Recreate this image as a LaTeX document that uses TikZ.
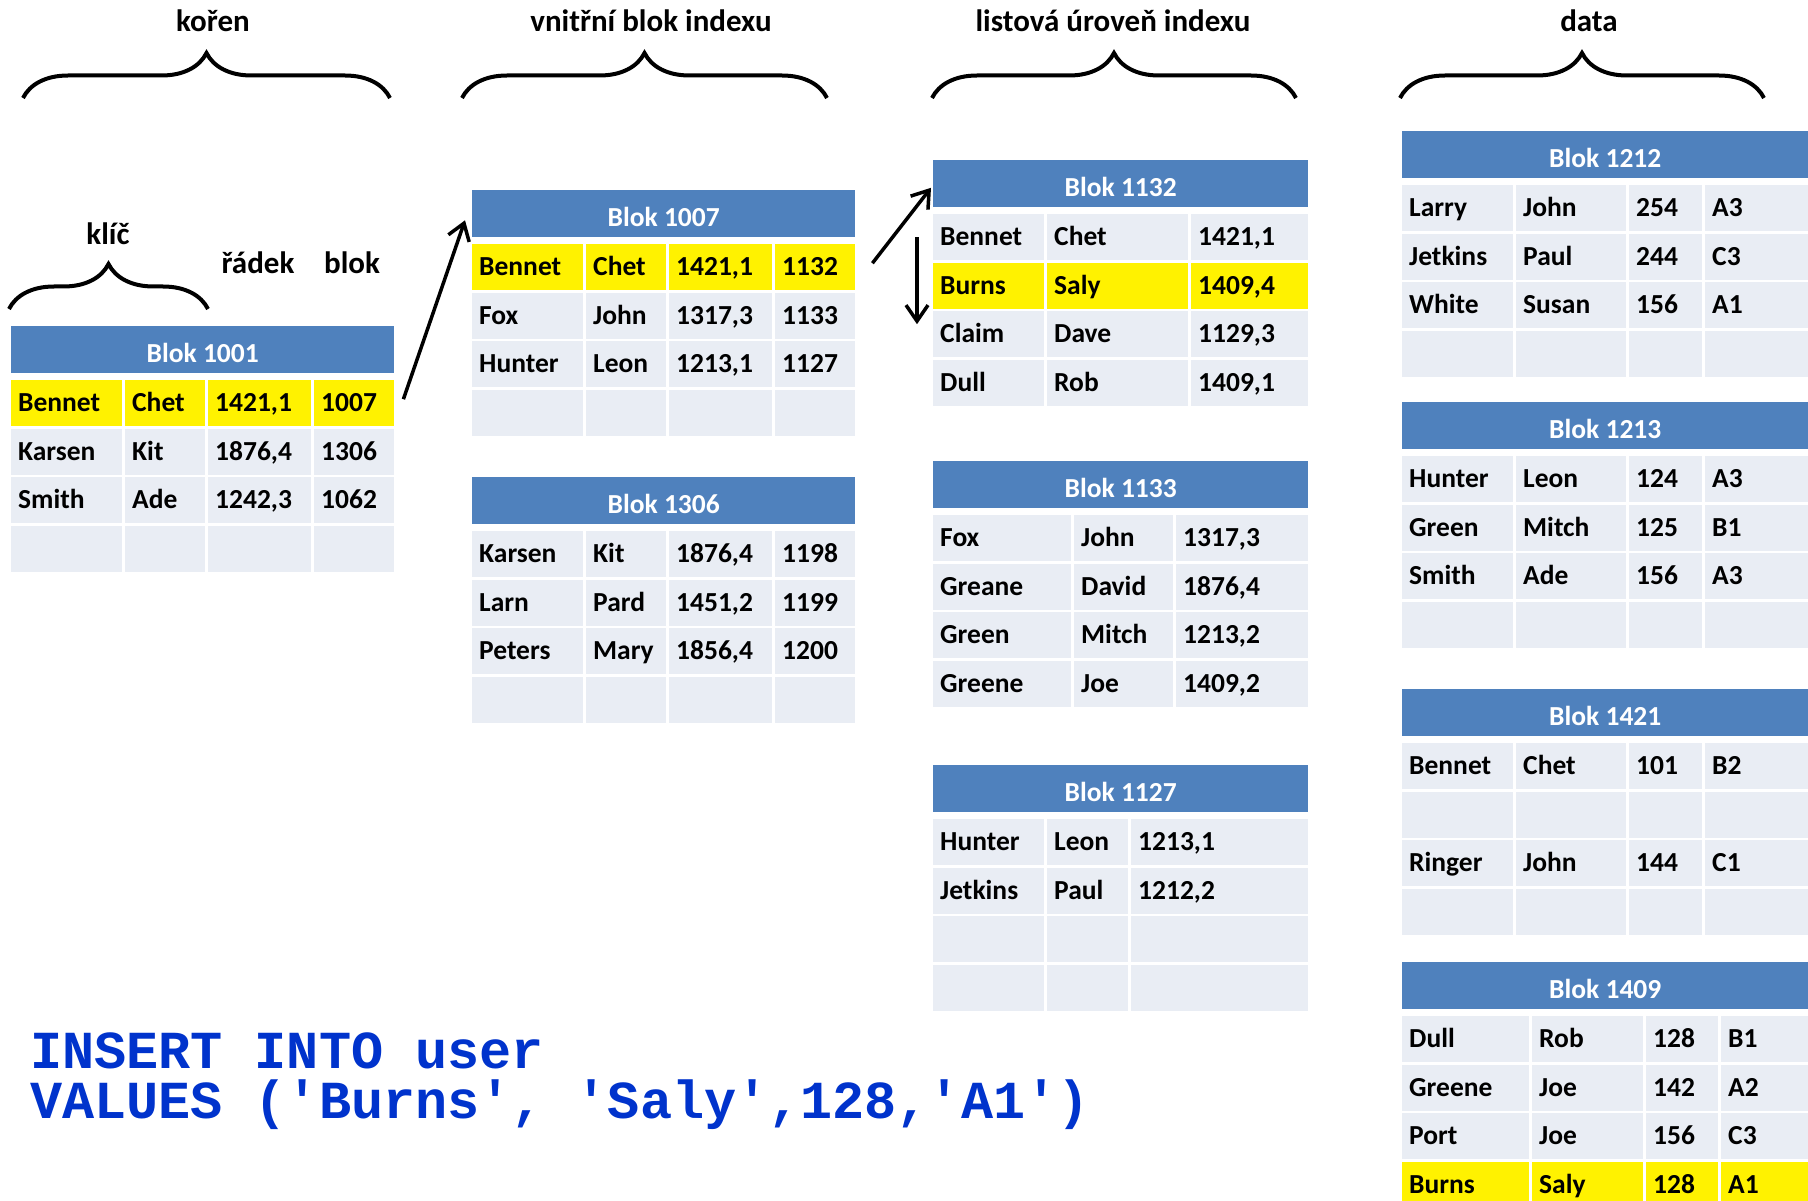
\documentclass[tikz,border=0pt]{standalone}
\usepackage{fontspec}
\setmainfont{Carlito}
\setmonofont{Liberation Mono}
\usetikzlibrary{matrix,positioning,decorations.pathreplacing,arrows.meta}

\definecolor{modra}{RGB}{79,129,189}
\definecolor{svetla}{RGB}{233,237,244}
\definecolor{sqlmodra}{RGB}{0,51,204}

\newcommand{\bunkafont}{\fontsize{27.5}{33}\selectfont\bfseries}
\newcommand{\popisfont}{\fontsize{31}{37}\selectfont\bfseries}
\newcommand{\sqlfont}{\fontsize{53.5}{50}\selectfont\ttfamily\bfseries}

\tikzset{
  bunka/.style={fill=svetla, font=\bunkafont, align=left, inner xsep=7pt, inner ysep=10.5pt, text height=21pt, text depth=4pt},
  blok/.style={matrix of nodes, nodes in empty cells, row sep=2.5pt, column sep=3pt, inner sep=0pt, anchor=north west, nodes={bunka}},
  ctyri/.style n args={4}{column 1/.style={nodes={text width=#1}}, column 2/.style={nodes={text width=#2}}, column 3/.style={nodes={text width=#3}}, column 4/.style={nodes={text width=#4}}},
  tri/.style n args={3}{column 1/.style={nodes={text width=#1}}, column 2/.style={nodes={text width=#2}}, column 3/.style={nodes={text width=#3}}},
  zluta/.style={row #1/.style={nodes={fill=yellow}}},
  hlava/.style={fill=modra, text=white, font=\bunkafont, minimum height=47pt, inner sep=0pt, text height=26pt, text depth=0pt},
  zavorka/.style={decorate, decoration={brace, amplitude=45pt}, line width=4pt},
  popis/.style={font=\popisfont, anchor=base},
  sipka/.style={line width=3.5pt, -{Straight Barb[length=16pt,width=22pt]}},
  sql/.style={font=\sqlfont, text=sqlmodra, align=left, anchor=base west, inner sep=0pt}
}

\begin{document}
\begin{tikzpicture}[x=1pt,y=-1pt]
\clip (0,0) rectangle (1808,1201);
%popisky nahore
\node[popis] (koren) at (213,32) {kořen};
\node[popis] (vnitrni) at (651,32) {vnitřní blok indexu};
\node[popis] (listova) at (1113,32) {listová úroveň indexu};
\node[popis] (data) at (1589,32) {data};
\draw[zavorka] (23,98) -- (390,98);
\draw[zavorka] (462,98) -- (827,98);
\draw[zavorka] (932,98) -- (1296,98);
\draw[zavorka] (1400,98) -- (1764,98);
%koren
\node[popis] (klic) at (108,245) {klíč};
\node[popis] (radek) at (258,274) {řádek};
\node[popis] (lblok) at (352,274) {blok};
\draw[zavorka] (9,309) -- (208,309);
\matrix (b1001) [blok, ctyri={97pt}{66pt}{89pt}{66pt}, zluta=1] at (11,380) {
Bennet & Chet & 1421,1 & 1007 \\
Karsen & Kit & 1876,4 & 1306 \\
Smith & Ade & 1242,3 & 1062 \\
 & & & \\
};
\node[hlava, minimum width=383pt, above=7pt of b1001] (h1001) {Blok 1001};
%vnitrni bloky
\matrix (b1007) [blok, ctyri={97pt}{66pt}{89pt}{66pt}, zluta=1] at (472,244) {
Bennet & Chet & 1421,1 & 1132 \\
Fox & John & 1317,3 & 1133 \\
Hunter & Leon & 1213,1 & 1127 \\
 & & & \\
};
\node[hlava, minimum width=383pt, above=7pt of b1007] (h1007) {Blok 1007};
\matrix (b1306) [blok, ctyri={97pt}{66pt}{89pt}{66pt}] at (472,531) {
Karsen & Kit & 1876,4 & 1198 \\
Larn & Pard & 1451,2 & 1199 \\
Peters & Mary & 1856,4 & 1200 \\
 & & & \\
};
\node[hlava, minimum width=383pt, above=7pt of b1306] (h1306) {Blok 1306};
%listove bloky
\matrix (b1132) [blok, tri={97pt}{127pt}{103pt}, zluta=2] at (933,214) {
Bennet & Chet & 1421,1 \\
Burns & Saly & 1409,4 \\
Claim & Dave & 1129,3 \\
Dull & Rob & 1409,1 \\
};
\node[hlava, minimum width=375pt, above=7pt of b1132] (h1132) {Blok 1132};
\matrix (b1133) [blok, tri={124pt}{85pt}{118pt}] at (933,515) {
Fox & John & 1317,3 \\
Greane & David & 1876,4 \\
Green & Mitch & 1213,2 \\
Greene & Joe & 1409,2 \\
};
\node[hlava, minimum width=375pt, above=7pt of b1133] (h1133) {Blok 1133};
\matrix (b1127) [blok, tri={97pt}{67pt}{163pt}] at (933,819) {
Hunter & Leon & 1213,1 \\
Jetkins & Paul & 1212,2 \\
 & & \\
 & & \\
};
\node[hlava, minimum width=375pt, above=7pt of b1127] (h1127) {Blok 1127};
%data
\matrix (b1212) [blok, ctyri={97pt}{96pt}{59pt}{89pt}] at (1402,185) {
Larry & John & 254 & A3 \\
Jetkins & Paul & 244 & C3 \\
White & Susan & 156 & A1 \\
 & & & \\
};
\node[hlava, minimum width=406pt, above=7pt of b1212] (h1212) {Blok 1212};
\matrix (b1213) [blok, ctyri={97pt}{96pt}{59pt}{89pt}] at (1402,456) {
Hunter & Leon & 124 & A3 \\
Green & Mitch & 125 & B1 \\
Smith & Ade & 156 & A3 \\
 & & & \\
};
\node[hlava, minimum width=406pt, above=7pt of b1213] (h1213) {Blok 1213};
\matrix (b1421) [blok, ctyri={97pt}{96pt}{59pt}{89pt}] at (1402,743) {
Bennet & Chet & 101 & B2 \\
 & & & \\
Ringer & John & 144 & C1 \\
 & & & \\
};
\node[hlava, minimum width=406pt, above=7pt of b1421] (h1421) {Blok 1421};
\matrix (b1409) [blok, ctyri={113pt}{97pt}{58pt}{73pt}, zluta=4] at (1402,1016) {
Dull & Rob & 128 & B1 \\
Greene & Joe & 142 & A2 \\
Port & Joe & 156 & C3 \\
Burns & Saly & 128 & A1 \\
};
\node[hlava, minimum width=406pt, above=7pt of b1409] (h1409) {Blok 1409};
%sipky
\draw[sipka] ([xshift=9pt,yshift=4pt]b1001-1-4.east) -- ([xshift=-7pt,yshift=-7pt]h1007.west);
\draw[sipka] ([xshift=17pt,yshift=4pt]b1007-1-4.east) -- ([xshift=-2pt,yshift=-4.5pt]h1132.west);
\draw[sipka] ([xshift=-16pt]b1132-1-1.west) -- ([xshift=-16pt,yshift=10pt]b1132-3-1.west);
%dotaz
\node[sql] (dotaz) at (30,1118) {INSERT INTO user\\VALUES ('Burns', 'Saly',128,'A1')};
\end{tikzpicture}
\end{document}
